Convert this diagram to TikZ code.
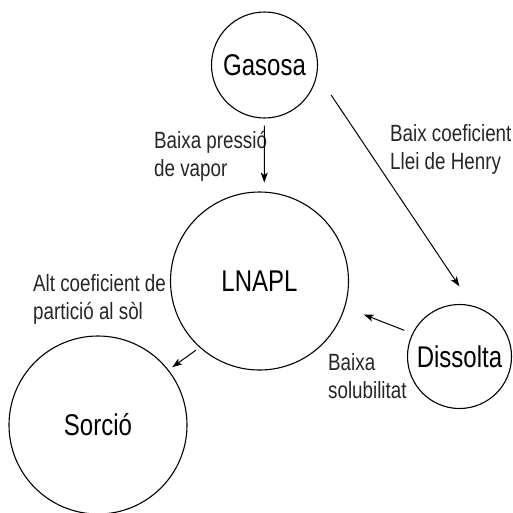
\documentclass[tikz,border=0pt]{standalone}
\usepackage{fontspec}
\setmainfont{Liberation Sans}[FakeStretch=0.8]
\usepackage{tikz}
\usetikzlibrary{calc, arrows.meta}

\begin{document}
\begin{tikzpicture}[x=1pt,y=-1pt,
  fase/.style={draw,circle,line width=1.1pt,inner sep=0pt,font=\fontsize{30}{33}\selectfont},
  etiq/.style={anchor=base west,inner sep=0pt,align=left,text=black!85,font=\fontsize{23.5}{27.5}\selectfont},
  flux/.style={-{Stealth[length=10pt,width=7pt,inset=2.5pt]},line width=1pt}]
\useasboundingbox (0,0) rectangle (513,512);
% les quatre fases
\node[fase,minimum size=106pt] (gas) at (264.5,65){Gasosa};
\node[fase,minimum size=178pt] (lnapl) at (259.5,281){LNAPL};
\node[fase,minimum size=178pt] (sorcio) at (98,425){Sorció};
\node[fase,minimum size=104pt] (dis) at (459.5,356.5){Dissolta};
% etiquetes (base = darrera linia)
\node[etiq] (pres) at (154,176){Baixa pressió\\de vapor};
\node[etiq] (henry) at (390,169){Baix coeficient\\Llei de Henry};
\node[etiq] (alt) at (33,319){Alt coeficient de\\partició al sòl};
\node[etiq] (sol) at (328,398){Baixa\\solubilitat};
% fletxes
\draw [flux,shorten <=7pt,shorten >=9pt] (gas.south) -- (lnapl.87);
\draw [flux,shorten <=25pt,shorten >=23pt] (gas.-10) -- (dis.76);
\draw [flux,shorten <=8.5pt,shorten >=20pt] (dis.154) -- (lnapl.-17);
\draw [flux,shorten <=4.5pt,shorten >=4.5pt] (lnapl.-132.6) -- (sorcio.38.5);
\end{tikzpicture}
\end{document}
